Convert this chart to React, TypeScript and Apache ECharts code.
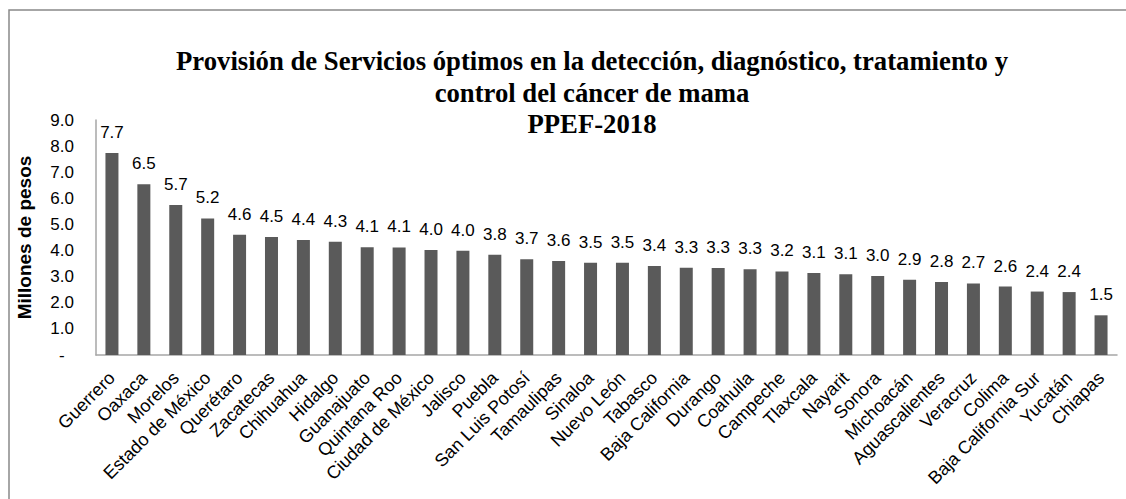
import React, { useEffect, useRef } from "react";
import * as echarts from "echarts";

const categories = [
  "Guerrero", "Oaxaca", "Morelos", "Estado de México", "Querétaro", "Zacatecas",
  "Chihuahua", "Hidalgo", "Guanajuato", "Quintana Roo", "Ciudad de México", "Jalisco",
  "Puebla", "San Luis Potosí", "Tamaulipas", "Sinaloa", "Nuevo León", "Tabasco",
  "Baja California", "Durango", "Coahuila", "Campeche", "Tlaxcala", "Nayarit",
  "Sonora", "Michoacán", "Aguascalientes", "Veracruz", "Colima", "Baja California Sur",
  "Yucatán", "Chiapas",
];

const values = [
  7.74, 6.54, 5.74, 5.23, 4.61, 4.52, 4.4, 4.34, 4.13, 4.12, 4.02, 3.99,
  3.84, 3.67, 3.6, 3.53, 3.53, 3.41, 3.34, 3.33, 3.28, 3.2, 3.14, 3.09,
  3.03, 2.88, 2.8, 2.74, 2.62, 2.43, 2.41, 1.52,
];

const titleLines = [
  "Provisión de Servicios óptimos en la detección, diagnóstico, tratamiento y",
  "control del cáncer de mama",
  "PPEF-2018",
];

const yAxisName = "Millones de pesos";

export default function App() {
  const ref = useRef<HTMLDivElement>(null);
  useEffect(() => {
    if (!ref.current) return;
    const chart = echarts.init(ref.current, undefined, { renderer: "svg" });
    const sans = "Liberation Sans, Arial, sans-serif";
    const serif = "Liberation Serif, Times New Roman, serif";
    const titleY = [61, 93, 124];
    chart.setOption({
      animation: false,
      backgroundColor: "#ffffff",
      grid: { left: 96, right: 9, top: 120, bottom: 144, containLabel: false },
      xAxis: {
        type: "category",
        data: categories,
        axisLine: { show: true, lineStyle: { color: "#a6a6a6", width: 1.5 } },
        axisTick: { show: false },
        axisLabel: {
          rotate: 45,
          interval: 0,
          margin: 20,
          fontFamily: sans,
          fontSize: 18,
          color: "#000",
        },
      },
      yAxis: {
        type: "value",
        min: 0,
        max: 9,
        interval: 1,
        name: yAxisName,
        nameLocation: "middle",
        nameGap: 62,
        nameTextStyle: { fontFamily: sans, fontSize: 19, fontWeight: "bold", color: "#000" },
        axisLine: { show: true, lineStyle: { color: "#a6a6a6", width: 1.5 } },
        axisTick: { show: false },
        splitLine: { show: false },
        axisLabel: {
          margin: 22,
          fontFamily: sans,
          fontSize: 17,
          color: "#000",
          formatter: (v: number) => (v === 0 ? "-  " : v.toFixed(1)),
        },
      },
      series: [
        {
          type: "bar",
          data: values,
          barWidth: 13,
          itemStyle: { color: "#5a5a5a" },
          label: {
            show: true,
            position: "top",
            distance: 12,
            fontFamily: sans,
            fontSize: 17,
            color: "#000",
            formatter: (p: any) => Number(p.value).toFixed(1),
          },
        },
      ],
      graphic: [
        {
          type: "rect",
          shape: { x: 9, y: 10, width: 1300, height: 700 },
          style: { fill: "none", stroke: "#898989", lineWidth: 1.5 },
          silent: true,
        },
        ...titleLines.map((t, i) => ({
          type: "text",
          x: 592,
          y: titleY[i],
          style: {
            text: t,
            textAlign: "center",
            textVerticalAlign: "middle",
            fontFamily: serif,
            fontWeight: "bold",
            fontSize: 26.7,
            fill: "#000",
          },
        })),
      ],
    });
    return () => chart.dispose();
  }, []);
  return (
    <div
      ref={ref}
      style={{ position: "fixed", left: 0, top: 0, width: 1126, height: 499 }}
    />
  );
}
